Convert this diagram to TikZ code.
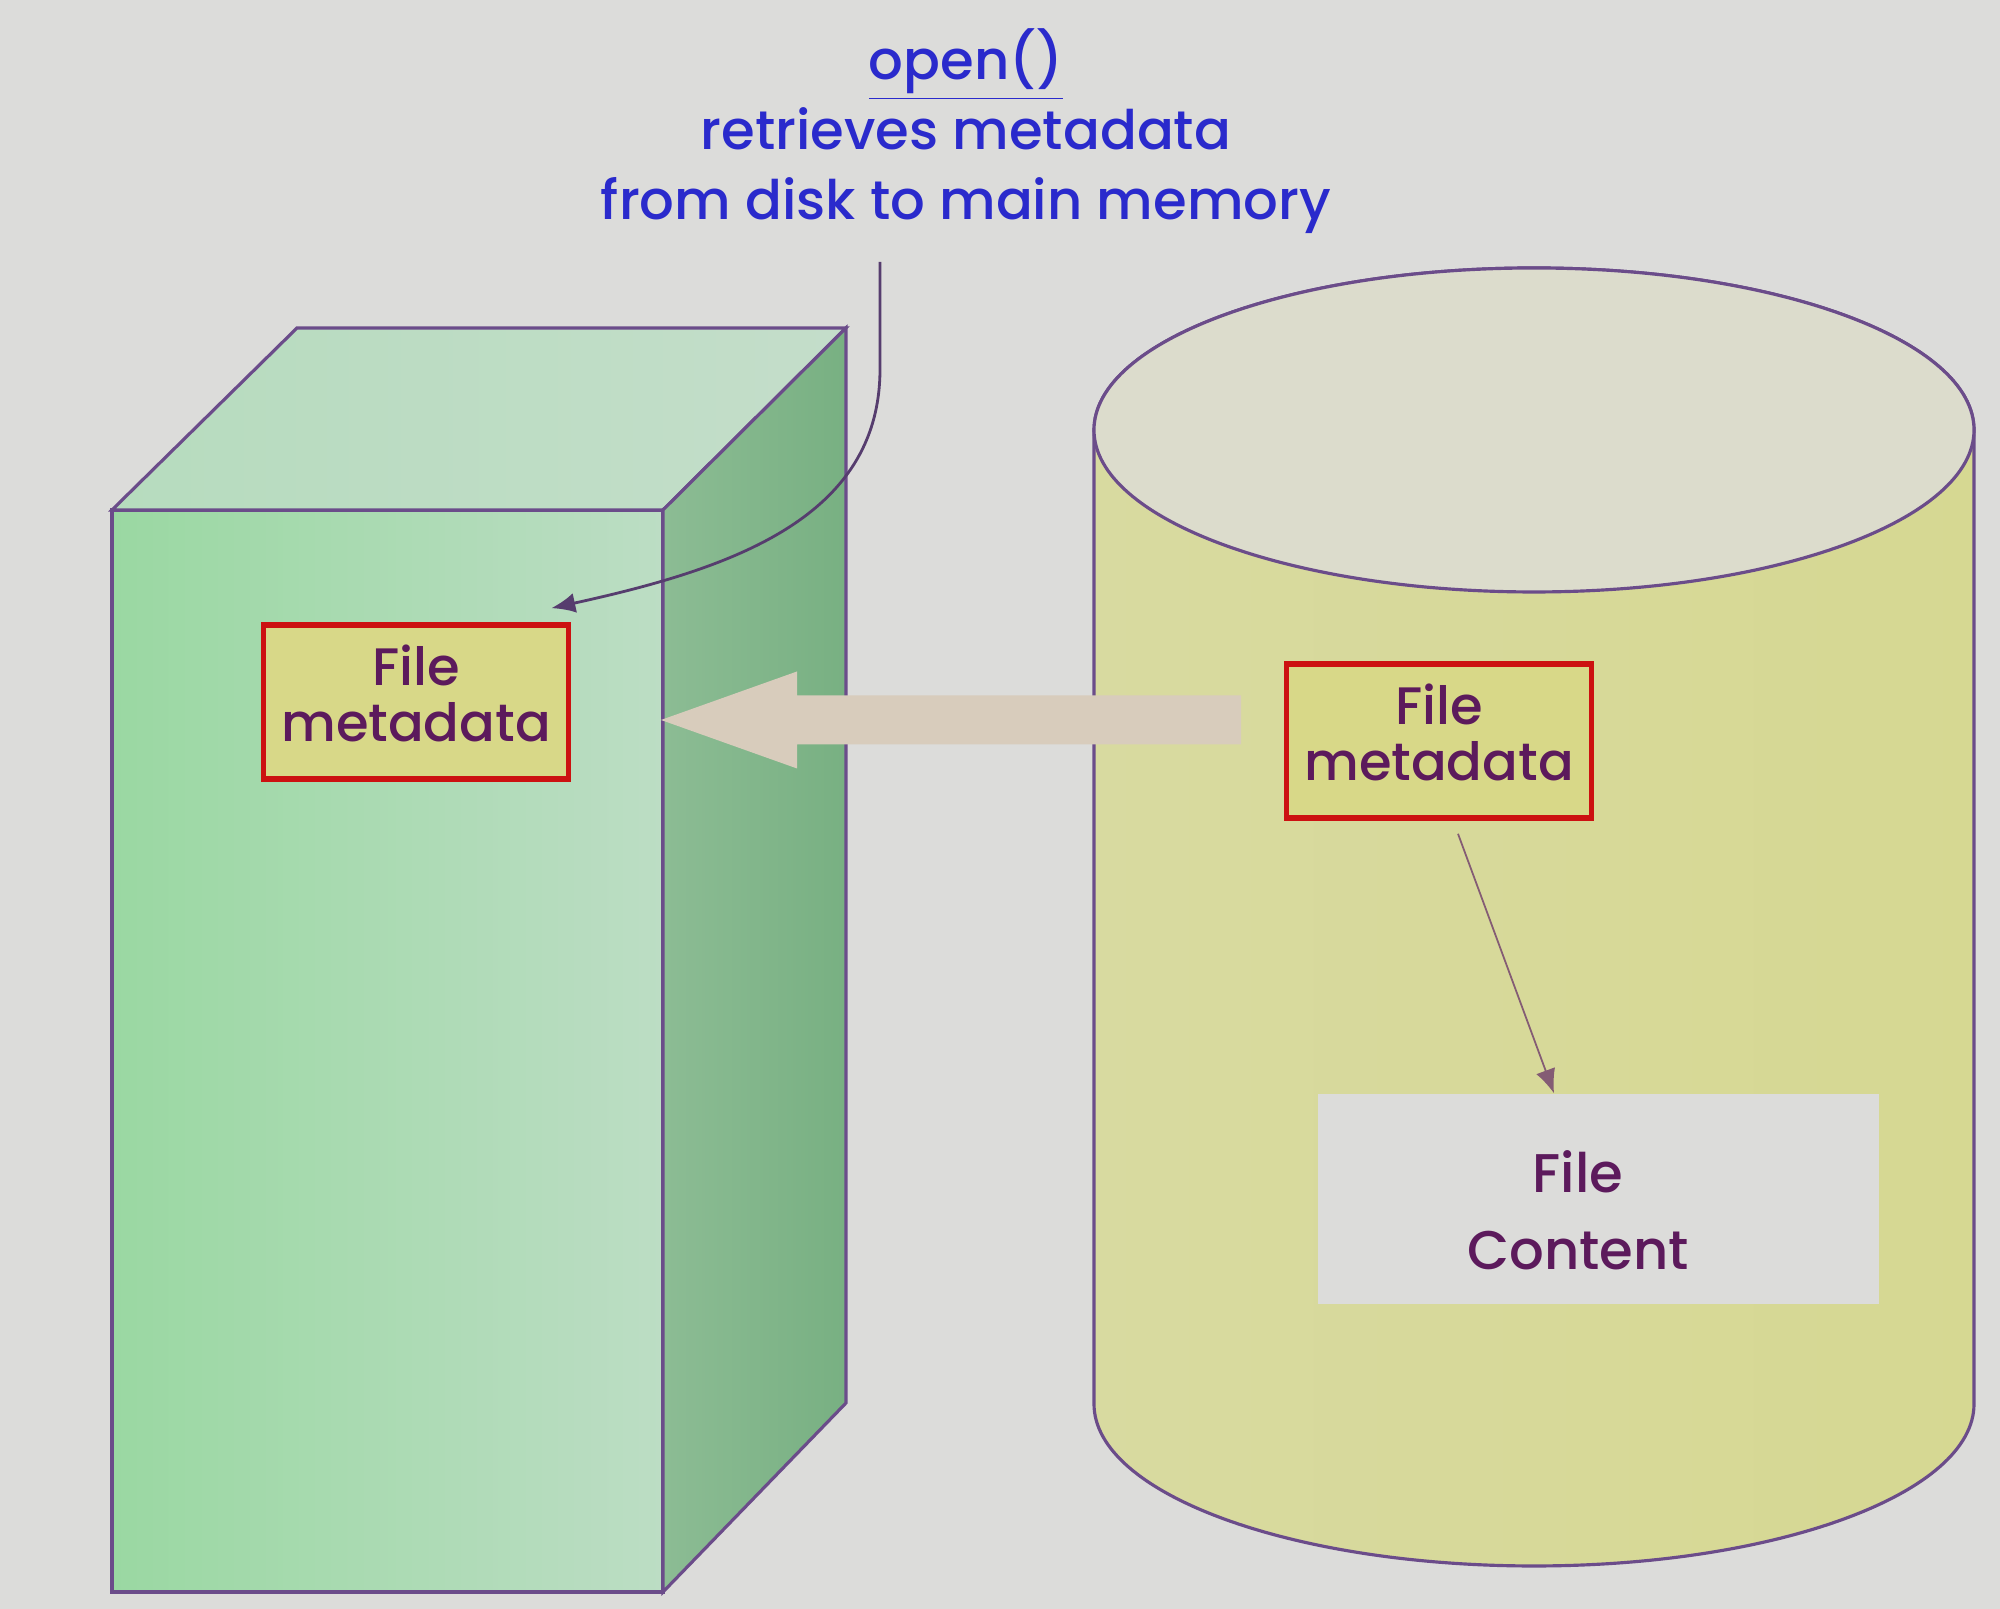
\documentclass[tikz,border=0pt]{standalone}
\usepackage{fontspec}
\setmainfont{Poppins Medium}
\usetikzlibrary{arrows.meta}

\definecolor{sfondo}{HTML}{DCDCDA}
\definecolor{bordo}{HTML}{6B4C8A}
\definecolor{viola}{HTML}{5C1A5C}
\definecolor{blu}{HTML}{2A2ACC}
\definecolor{rosso}{HTML}{CC1111}
\definecolor{giallo}{HTML}{D8D888}
\definecolor{sabbia}{HTML}{D8CCBC}
\definecolor{verdeA}{HTML}{9AD8A2}
\definecolor{verdeB}{HTML}{BCDDC4}
\definecolor{verdeC}{HTML}{B6DCBE}
\definecolor{verdeD}{HTML}{C4DDCA}
\definecolor{verdeE}{HTML}{8CBC94}
\definecolor{verdeF}{HTML}{78B082}
\definecolor{discoA}{HTML}{D8DAA0}
\definecolor{discoB}{HTML}{DCDCC6}
\definecolor{discoC}{HTML}{D6D892}
\definecolor{discoT}{HTML}{DCDCCC}

\tikzset{
  meta/.style={draw=rosso, line width=1.6pt, fill=giallo, text=viola, align=center,
    minimum width=3.05cm, minimum height=1.54cm, inner sep=0pt, text depth=0.18cm,
    font=\fontsize{15}{16}\selectfont},
  content/.style={fill=sfondo, text=viola, align=center,
    minimum width=5.61cm, minimum height=2.1cm, inner sep=0pt,
    font=\fontsize{15.5}{22}\selectfont},
  note/.style={text=blu, align=center, inner sep=0pt,
    font=\fontsize{15.5}{20}\selectfont},
}

\begin{document}
\begin{tikzpicture}[>={Latex[length=2.4mm,width=2mm]}]
    % Sfondo
    \fill[sfondo] (0,0) rectangle (20,16.09);
    \useasboundingbox (0,0) rectangle (20,16.09);
    % Memoria principale (parallelepipedo)
    \shade[left color=verdeA, right color=verdeB, draw=bordo, line width=0.9pt]
        (1.12,0.17) rectangle (6.63,10.99);
    \shade[left color=verdeC, right color=verdeD, draw=bordo, line width=0.9pt]
        (1.12,10.99) -- (2.97,12.81) -- (8.46,12.81) -- (6.63,10.99) -- cycle;
    \shade[left color=verdeE, right color=verdeF, draw=bordo, line width=0.9pt]
        (6.63,0.17) -- (6.63,10.99) -- (8.46,12.81) -- (8.46,2.06) -- cycle;
    % Disco (cilindro)
    \shade[left color=discoA, middle color=discoB, right color=discoC, draw=bordo, line width=0.9pt]
        (10.94,11.79) -- (10.94,2.05) arc[start angle=180, end angle=360, x radius=4.40, y radius=1.62]
        -- (19.74,11.79) arc[start angle=0, end angle=180, x radius=4.40, y radius=1.62];
    \filldraw[fill=discoT, draw=bordo, line width=0.9pt] (15.34,11.79) ellipse (4.40 and 1.62);
    % Trasferimento
    \fill[sabbia] (12.41,9.135) -- (7.97,9.135) -- (7.97,9.375) -- (6.61,8.89)
        -- (7.97,8.405) -- (7.97,8.645) -- (12.41,8.645) -- cycle;
    % Nodi
    \node[meta] (metaL) at (4.16,9.07) {File\\metadata};
    \node[meta] (metaR) at (14.39,8.68) {File\\metadata};
    \node[content] (content) at (15.98,4.10) {\rule{0pt}{0.65cm}\hspace*{-0.4cm}File\\Content\hspace*{0.4cm}};
    \node[note] (opennote) at (9.66,14.78) {\underline{open()}\\retrieves metadata\\from disk to main memory};
    \coordinate (start) at (8.80,13.47);
    % Frecce
    \draw[->, bordo!80!black, line width=0.8pt] (start) -- (8.80,12.4)
        .. controls (8.80,10.9) and (7.3,10.4) .. ([xshift=-0.2cm, yshift=0.14cm]metaL.north east);
    \draw[->, bordo!70!brown, line width=0.5pt] ([xshift=0.19cm, yshift=-0.13cm]metaR.south)
        -- ([xshift=-0.44cm]content.north);
\end{tikzpicture}
\end{document}
